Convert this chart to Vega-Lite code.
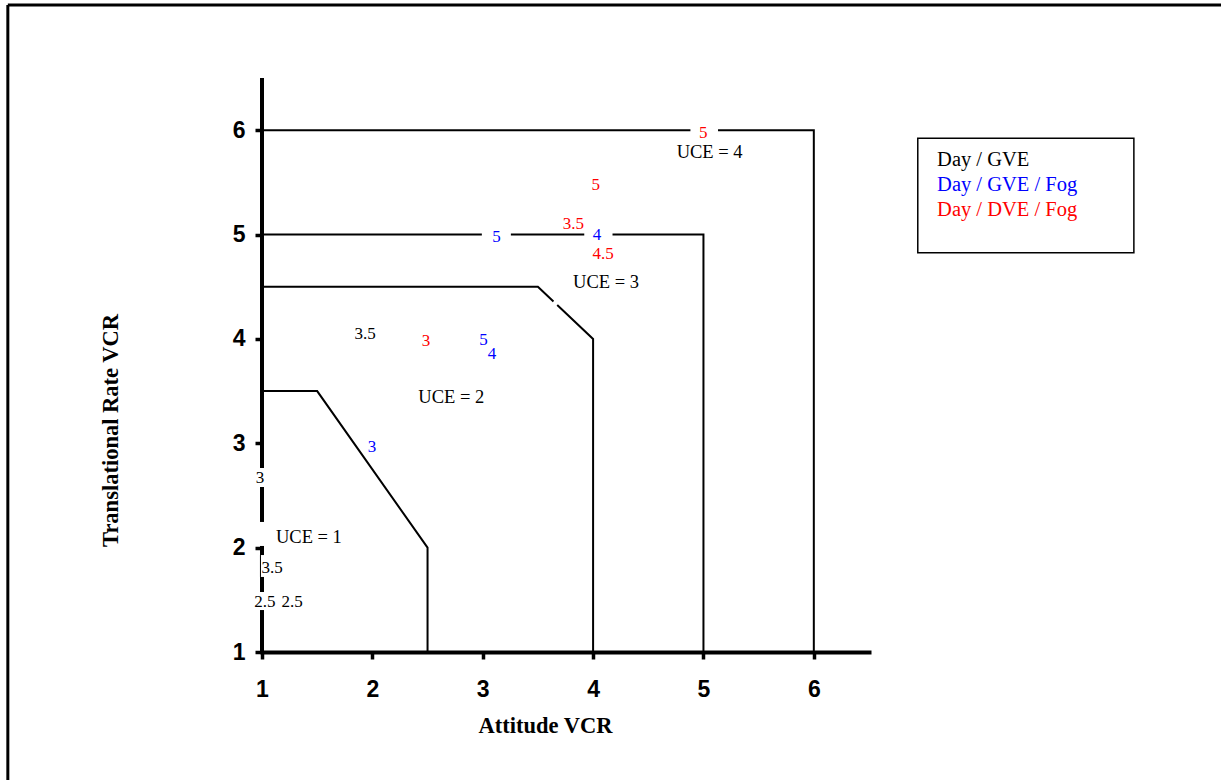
{
  "$schema": "https://vega.github.io/schema/vega-lite/v6.json",
  "width": 607,
  "height": 574,
  "autosize": "none",
  "padding": {"left": 262, "top": 78, "right": 352, "bottom": 128},
  "background": "white",
  "config": {
    "view": {"stroke": null},
    "axis": {
      "grid": false,
      "domainColor": "black",
      "domainWidth": 4,
      "domainCap": "square",
      "tickColor": "black",
      "tickWidth": 3.5,
      "tickSize": 7,
      "labelFlush": false,
      "labelFont": "Liberation Sans Narrow, Liberation Sans",
      "labelFontWeight": "bold",
      "labelFontSize": 23,
      "labelColor": "black",
      "titleFont": "Liberation Serif",
      "titleFontWeight": "bold",
      "titleFontSize": 22.5,
      "titleColor": "black"
    },
    "text": {"font": "Liberation Serif"}
  },
  "datasets": {
    "frame": [
      {"x": -1.303, "y": 7.2, "x2": 12, "y2": 7.2},
      {"x": -1.303, "y": 7.2, "x2": -1.303, "y2": -3}
    ],
    "boundaries": [
      {"segment": "UCE 1", "i": 1, "x": 1, "y": 3.5},
      {"segment": "UCE 1", "i": 2, "x": 1.5, "y": 3.5},
      {"segment": "UCE 1", "i": 3, "x": 2.5, "y": 2},
      {"segment": "UCE 1", "i": 4, "x": 2.5, "y": 1},
      {"segment": "UCE 2a", "i": 1, "x": 1, "y": 4.5},
      {"segment": "UCE 2a", "i": 2, "x": 3.5, "y": 4.5},
      {"segment": "UCE 2a", "i": 3, "x": 3.641, "y": 4.359},
      {"segment": "UCE 2b", "i": 1, "x": 3.675, "y": 4.325},
      {"segment": "UCE 2b", "i": 2, "x": 4, "y": 4},
      {"segment": "UCE 2b", "i": 3, "x": 4, "y": 1},
      {"segment": "UCE 3a", "i": 1, "x": 1, "y": 5},
      {"segment": "UCE 3a", "i": 2, "x": 2.992, "y": 5},
      {"segment": "UCE 3b", "i": 1, "x": 3.255, "y": 5},
      {"segment": "UCE 3b", "i": 2, "x": 3.92, "y": 5},
      {"segment": "UCE 3c", "i": 1, "x": 4.176, "y": 5},
      {"segment": "UCE 3c", "i": 2, "x": 5, "y": 5},
      {"segment": "UCE 3c", "i": 3, "x": 5, "y": 1},
      {"segment": "UCE 4a", "i": 1, "x": 1, "y": 6},
      {"segment": "UCE 4a", "i": 2, "x": 4.882, "y": 6},
      {"segment": "UCE 4b", "i": 1, "x": 5.132, "y": 6},
      {"segment": "UCE 4b", "i": 2, "x": 6, "y": 6},
      {"segment": "UCE 4b", "i": 3, "x": 6, "y": 1}
    ],
    "yAxisLine": [
      {"x": 1, "y": 6.5, "y2": 2.763},
      {"x": 1, "y": 2.581, "y2": 2.246},
      {"x": 1, "y": 2.016, "y2": 1.929},
      {"x": 1, "y": 1.719, "y2": 1.575},
      {"x": 1, "y": 1.402, "y2": 1.0}
    ],
    "yAxisThin": [
      {"x": 0.986, "y": 1.929, "y2": 1.719}
    ],
    "ratings": [
      {"label": "3.5", "series": "Day / GVE", "x": 1.934, "y": 4.049},
      {"label": "3", "series": "Day / GVE", "x": 0.982, "y": 2.672},
      {"label": "3.5", "series": "Day / GVE", "x": 1.091, "y": 1.805},
      {"label": "2.5", "series": "Day / GVE", "x": 1.027, "y": 1.479},
      {"label": "2.5", "series": "Day / GVE", "x": 1.272, "y": 1.479},
      {"label": "3", "series": "Day / GVE / Fog", "x": 1.997, "y": 2.965},
      {"label": "5", "series": "Day / GVE / Fog", "x": 3.007, "y": 3.987},
      {"label": "4", "series": "Day / GVE / Fog", "x": 3.083, "y": 3.858},
      {"label": "5", "series": "Day / GVE / Fog", "x": 3.124, "y": 4.972},
      {"label": "4", "series": "Day / GVE / Fog", "x": 4.035, "y": 4.999},
      {"label": "3", "series": "Day / DVE / Fog", "x": 2.485, "y": 3.982},
      {"label": "5", "series": "Day / DVE / Fog", "x": 4.024, "y": 5.475},
      {"label": "3.5", "series": "Day / DVE / Fog", "x": 3.822, "y": 5.104},
      {"label": "4.5", "series": "Day / DVE / Fog", "x": 4.09, "y": 4.809},
      {"label": "5", "series": "Day / DVE / Fog", "x": 4.999, "y": 5.973}
    ],
    "zones": [
      {"label": "UCE = 1", "x": 1.425, "y": 2.102},
      {"label": "UCE = 2", "x": 2.715, "y": 3.446},
      {"label": "UCE = 3", "x": 4.117, "y": 4.548},
      {"label": "UCE = 4", "x": 5.056, "y": 5.789}
    ],
    "keyBox": [
      {"x": 6.942, "x2": 8.9, "y": 5.922, "y2": 4.826}
    ],
    "keyItems": [
      {"series": "Day / GVE", "x": 7.117, "y": 5.71},
      {"series": "Day / GVE / Fog", "x": 7.117, "y": 5.47},
      {"series": "Day / DVE / Fog", "x": 7.117, "y": 5.235}
    ]
  },
  "layer": [
    {
      "data": {"name": "boundaries"},
      "mark": {"type": "line", "color": "black", "strokeWidth": 2},
      "encoding": {
        "x": {
          "field": "x",
          "type": "quantitative",
          "scale": {"domain": [1, 6.5], "nice": false, "zero": false},
          "axis": {
            "title": "Attitude VCR",
            "values": [1, 2, 3, 4, 5, 6],
            "format": "d",
            "labelPadding": 19,
            "titleX": 283,
            "titleY": 73,
            "titleAlign": "center",
            "titleBaseline": "middle"
          }
        },
        "y": {
          "field": "y",
          "type": "quantitative",
          "scale": {"domain": [1, 6.5], "nice": false, "zero": false},
          "axis": {
            "title": "Translational Rate VCR",
            "values": [1, 2, 3, 4, 5, 6],
            "format": "d",
            "domain": false,
            "labelPadding": 10,
            "titleX": -152,
            "titleY": 352,
            "titleAngle": -90,
            "titleAlign": "center",
            "titleBaseline": "middle"
          }
        },
        "detail": {"field": "segment"},
        "order": {"field": "i"}
      }
    },
    {
      "data": {"name": "frame"},
      "mark": {"type": "rule", "color": "black", "strokeWidth": 3},
      "encoding": {
        "x": {"field": "x", "type": "quantitative"},
        "x2": {"field": "x2"},
        "y": {"field": "y", "type": "quantitative"},
        "y2": {"field": "y2"}
      }
    },
    {
      "data": {"name": "yAxisLine"},
      "mark": {"type": "rule", "color": "black", "strokeWidth": 4},
      "encoding": {
        "x": {"field": "x", "type": "quantitative"},
        "y": {"field": "y", "type": "quantitative"},
        "y2": {"field": "y2"}
      }
    },
    {
      "data": {"name": "yAxisThin"},
      "mark": {"type": "rule", "color": "black", "strokeWidth": 1},
      "encoding": {
        "x": {"field": "x", "type": "quantitative"},
        "y": {"field": "y", "type": "quantitative"},
        "y2": {"field": "y2"}
      }
    },
    {
      "data": {"name": "ratings"},
      "mark": {"type": "text", "fontSize": 17, "align": "center", "baseline": "middle"},
      "encoding": {
        "x": {"field": "x", "type": "quantitative"},
        "y": {"field": "y", "type": "quantitative"},
        "text": {"field": "label"},
        "color": {
          "field": "series",
          "type": "nominal",
          "scale": {
            "domain": ["Day / GVE", "Day / GVE / Fog", "Day / DVE / Fog"],
            "range": ["#000000", "#0000ff", "#ff0000"]
          },
          "legend": null
        }
      }
    },
    {
      "data": {"name": "zones"},
      "mark": {"type": "text", "fontSize": 18.5, "align": "center", "baseline": "middle", "color": "black"},
      "encoding": {
        "x": {"field": "x", "type": "quantitative"},
        "y": {"field": "y", "type": "quantitative"},
        "text": {"field": "label"}
      }
    },
    {
      "data": {"name": "keyBox"},
      "mark": {"type": "rect", "fill": "white", "stroke": "black", "strokeWidth": 1.5},
      "encoding": {
        "x": {"field": "x", "type": "quantitative"},
        "x2": {"field": "x2"},
        "y": {"field": "y", "type": "quantitative"},
        "y2": {"field": "y2"}
      }
    },
    {
      "data": {"name": "keyItems"},
      "mark": {"type": "text", "fontSize": 20.5, "align": "left", "baseline": "middle"},
      "encoding": {
        "x": {"field": "x", "type": "quantitative"},
        "y": {"field": "y", "type": "quantitative"},
        "text": {"field": "series"},
        "color": {"field": "series", "type": "nominal", "legend": null}
      }
    }
  ]
}
